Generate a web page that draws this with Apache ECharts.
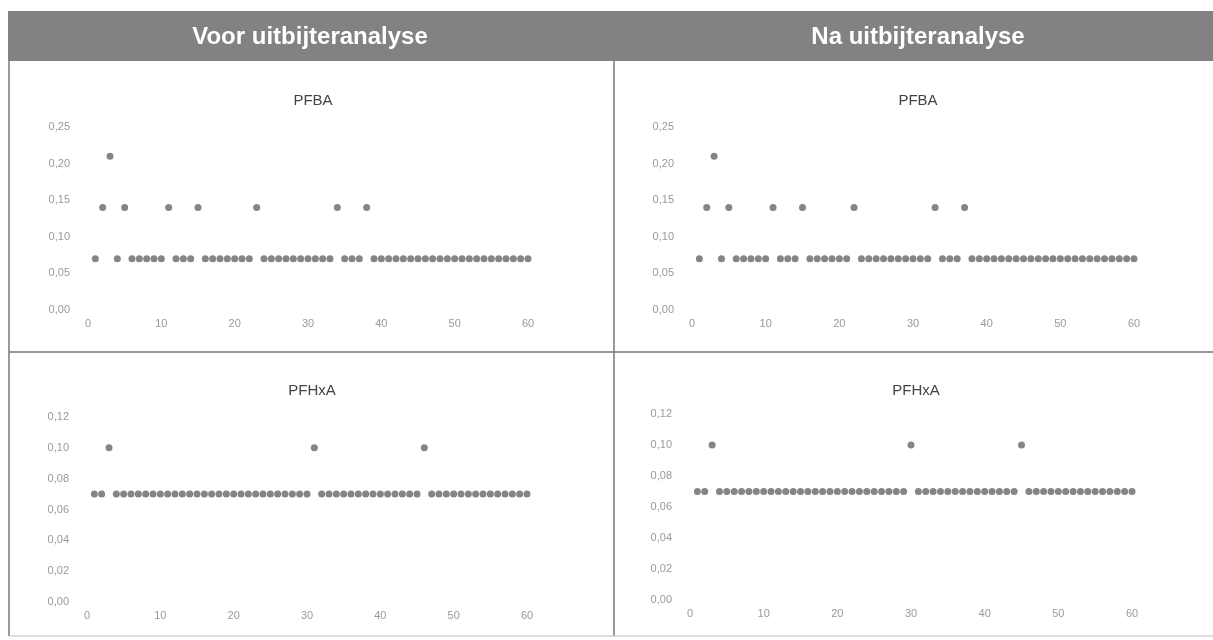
<!DOCTYPE html>
<html>
<head>
<meta charset="utf-8">
<script src="https://cdn.jsdelivr.net/npm/echarts@6/dist/echarts.min.js"></script>
<style>
  html, body { margin: 0; padding: 0; background: #fff; }
  #chart { width: 1213px; height: 640px; }
</style>
</head>
<body>
<div id="chart"></div>
<script>
// PFBA / PFHxA meetwaarden per monsternummer (voor en na uitbijteranalyse)
var pfbaVoor = [
  0.07, 0.14, 0.21, 0.07, 0.14, 0.07, 0.07, 0.07, 0.07, 0.07,
  0.14, 0.07, 0.07, 0.07, 0.14, 0.07, 0.07, 0.07, 0.07, 0.07,
  0.07, 0.07, 0.14, 0.07, 0.07, 0.07, 0.07, 0.07, 0.07, 0.07,
  0.07, 0.07, 0.07, 0.14, 0.07, 0.07, 0.07, 0.14, 0.07, 0.07,
  0.07, 0.07, 0.07, 0.07, 0.07, 0.07, 0.07, 0.07, 0.07, 0.07,
  0.07, 0.07, 0.07, 0.07, 0.07, 0.07, 0.07, 0.07, 0.07, 0.07,
  0.07
];
var pfbaNa = [
  0.07, 0.14, 0.21, 0.07, 0.14, 0.07, 0.07, 0.07, 0.07, 0.07,
  0.14, 0.07, 0.07, 0.07, 0.14, 0.07, 0.07, 0.07, 0.07, 0.07,
  0.07, 0.14, 0.07, 0.07, 0.07, 0.07, 0.07, 0.07, 0.07, 0.07,
  0.07, 0.07, 0.14, 0.07, 0.07, 0.07, 0.14, 0.07, 0.07, 0.07,
  0.07, 0.07, 0.07, 0.07, 0.07, 0.07, 0.07, 0.07, 0.07, 0.07,
  0.07, 0.07, 0.07, 0.07, 0.07, 0.07, 0.07, 0.07, 0.07, 0.07
];
var pfhxaVoor = [
  0.07, 0.07, 0.10, 0.07, 0.07, 0.07, 0.07, 0.07, 0.07, 0.07,
  0.07, 0.07, 0.07, 0.07, 0.07, 0.07, 0.07, 0.07, 0.07, 0.07,
  0.07, 0.07, 0.07, 0.07, 0.07, 0.07, 0.07, 0.07, 0.07, 0.07,
  0.10, 0.07, 0.07, 0.07, 0.07, 0.07, 0.07, 0.07, 0.07, 0.07,
  0.07, 0.07, 0.07, 0.07, 0.07, 0.10, 0.07, 0.07, 0.07, 0.07,
  0.07, 0.07, 0.07, 0.07, 0.07, 0.07, 0.07, 0.07, 0.07, 0.07,
  0.07
];
var pfhxaNa = [
  0.07, 0.07, 0.10, 0.07, 0.07, 0.07, 0.07, 0.07, 0.07, 0.07,
  0.07, 0.07, 0.07, 0.07, 0.07, 0.07, 0.07, 0.07, 0.07, 0.07,
  0.07, 0.07, 0.07, 0.07, 0.07, 0.07, 0.07, 0.07, 0.07, 0.10,
  0.07, 0.07, 0.07, 0.07, 0.07, 0.07, 0.07, 0.07, 0.07, 0.07,
  0.07, 0.07, 0.07, 0.07, 0.10, 0.07, 0.07, 0.07, 0.07, 0.07,
  0.07, 0.07, 0.07, 0.07, 0.07, 0.07, 0.07, 0.07, 0.07, 0.07
];
var columnHeaders = ['Voor uitbijteranalyse', 'Na uitbijteranalyse'];
var chartTitles = ['PFBA', 'PFBA', 'PFHxA', 'PFHxA'];

var dotColor = '#666666';
var labelColor = '#999999';
var lineColor = '#777777';

// monsternummer = positie in de reeks
function toPoints(values) {
  return values.map(function(v, i) { return [i + 1, v]; });
}
function fmt(v) { return v.toFixed(2).replace('.', ','); }

var panels = [
  { data: pfbaVoor, grid: { left: 88, top: 127, width: 440, height: 183 }, max: 0.25, step: 0.05 },
  { data: pfbaNa, grid: { left: 692, top: 127, width: 442, height: 183 }, max: 0.25, step: 0.05 },
  { data: pfhxaVoor, grid: { left: 87, top: 417, width: 440, height: 185 }, max: 0.12, step: 0.02 },
  { data: pfhxaNa, grid: { left: 690, top: 414, width: 442, height: 186 }, max: 0.12, step: 0.02 }
];

var grids = [], xAxes = [], yAxes = [], series = [], titles = [];
panels.forEach(function(p, i) {
  grids.push(p.grid);
  xAxes.push({
    type: 'value', gridIndex: i, min: 0, max: 60, interval: 10,
    axisLine: { show: false }, axisTick: { show: false }, splitLine: { show: false },
    axisLabel: { color: labelColor, fontSize: 11, margin: 8, fontFamily: 'Liberation Sans' }
  });
  yAxes.push({
    type: 'value', gridIndex: i, min: 0, max: p.max, interval: p.step,
    axisLine: { show: false }, axisTick: { show: false }, splitLine: { show: false },
    axisLabel: { color: labelColor, fontSize: 11, margin: 18, fontFamily: 'Liberation Sans', formatter: fmt }
  });
  series.push({
    type: 'scatter', xAxisIndex: i, yAxisIndex: i,
    data: toPoints(p.data), symbol: 'circle', symbolSize: 7,
    itemStyle: { color: dotColor }
  });
  titles.push({
    text: chartTitles[i],
    left: p.grid.left + p.grid.width / 2, textAlign: 'center',
    top: i < 2 ? 88 : 378,
    textStyle: { color: '#444', fontSize: 15, fontWeight: 'normal', fontFamily: 'Liberation Sans' }
  });
});

var chart = echarts.init(document.getElementById('chart'), null, { renderer: 'canvas' });
chart.setOption({
  animation: false,
  backgroundColor: '#fff',
  title: titles,
  grid: grids,
  xAxis: xAxes,
  yAxis: yAxes,
  series: series,
  graphic: [
    { type: 'rect', shape: { x: 8, y: 11, width: 1205, height: 50 }, style: { fill: '#828282' } },
    { type: 'text', x: 310, y: 37, style: { text: columnHeaders[0], fill: '#fff', font: 'bold 24px "Liberation Sans"', textAlign: 'center', textVerticalAlign: 'middle' } },
    { type: 'text', x: 918, y: 37, style: { text: columnHeaders[1], fill: '#fff', font: 'bold 24px "Liberation Sans"', textAlign: 'center', textVerticalAlign: 'middle' } },
    { type: 'line', shape: { x1: 9, y1: 61, x2: 9, y2: 636 }, style: { stroke: lineColor, lineWidth: 1.5 } },
    { type: 'line', shape: { x1: 614, y1: 61, x2: 614, y2: 636 }, style: { stroke: lineColor, lineWidth: 1.5 } },
    { type: 'line', shape: { x1: 9, y1: 352, x2: 1213, y2: 352 }, style: { stroke: lineColor, lineWidth: 1.5 } },
    { type: 'line', shape: { x1: 9, y1: 636, x2: 1213, y2: 636 }, style: { stroke: '#bdbdbd', lineWidth: 1 } }
  ]
});
</script>
</body>
</html>
